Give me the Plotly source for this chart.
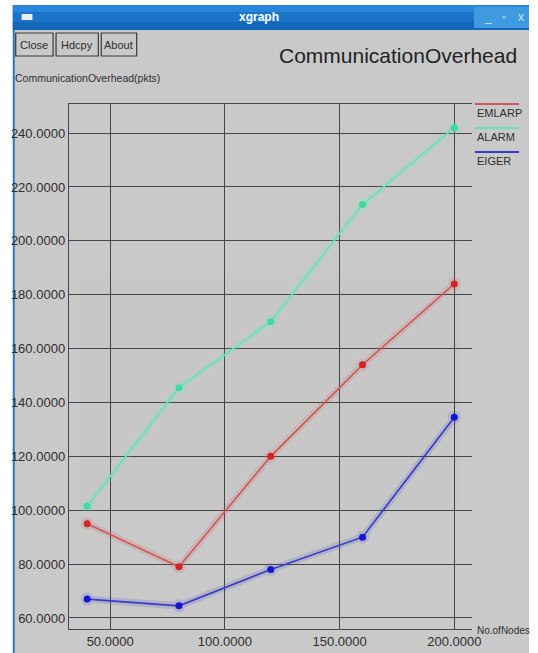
import plotly.graph_objects as go

# ---- data -------------------------------------------------------------
nodes = [40, 80, 120, 160, 200]
emlarp = [95, 79, 120, 154, 184]
alarm = [101.5, 145.5, 170, 213.5, 242]
eiger = [67, 64.5, 78, 90, 134.5]

series_names = ["EMLARP", "ALARM", "EIGER"]
series_values = [emlarp, alarm, eiger]

x_ticks = [50, 100, 150, 200]
y_ticks = [60, 80, 100, 120, 140, 160, 180, 200, 220, 240]

chart_title = "CommunicationOverhead"
y_title = "CommunicationOverhead(pkts)"
x_title = "No.ofNodes"
window_title = "xgraph"
buttons = ["Close", "Hdcpy", "About"]

# ---- styling ------------------------------------------------------------
W, H = 538, 653
BODY = "#c9c9c9"
GRID = "#474747"
TEXT = "#2e2e2e"
line_colors = ["#d05858", "#66e4b8", "#3a3ac8"]
marker_colors = ["#d42424", "#3cdca0", "#1414d2"]
FONT = "Liberation Sans, Arial, sans-serif"


def px(x):
    return x / W


def py(y):
    return 1 - y / H


def label(text, x, y, size, color=TEXT, xa="center", ya="middle"):
    return dict(text=text, xref="paper", yref="paper", x=px(x), y=py(y),
                xanchor=xa, yanchor=ya, showarrow=False,
                font=dict(family=FONT, size=size, color=color))


fig = go.Figure()

# soft halo under each line, then the line itself
for name, vals, lc, mc in zip(series_names, series_values, line_colors, marker_colors):
    fig.add_trace(go.Scatter(
        x=nodes, y=vals, mode="lines+markers",
        line=dict(color=lc, width=7), marker=dict(color=lc, size=13),
        opacity=0.16, hoverinfo="skip", showlegend=False))
    fig.add_trace(go.Scatter(
        x=nodes, y=vals, mode="lines+markers", name=name,
        line=dict(color=lc, width=1.6),
        marker=dict(color=mc, size=7), showlegend=False))

shapes = []
annotations = []

# window body and frame
shapes.append(dict(type="rect", xref="paper", yref="paper", x0=px(13), x1=1,
                   y0=0, y1=py(5), fillcolor=BODY, line=dict(width=0), layer="below"))
shapes.append(dict(type="rect", xref="paper", yref="paper", x0=px(13), x1=px(15),
                   y0=0, y1=py(5), fillcolor="#2a78c4", line=dict(width=0), layer="below"))
# title bar bands
bands = [(5, 12, "#2a86da"), (12, 22, "#1b74c8"), (22, 30, "#1266b8")]
for y0, y1, c in bands:
    shapes.append(dict(type="rect", xref="paper", yref="paper", x0=px(13), x1=1,
                       y0=py(y1), y1=py(y0), fillcolor=c, line=dict(width=0), layer="below"))
shapes.append(dict(type="rect", xref="paper", yref="paper", x0=px(482), x1=1,
                   y0=py(28), y1=py(7), fillcolor="#3f9ae0", line=dict(width=0), layer="below"))
shapes.append(dict(type="rect", xref="paper", yref="paper", x0=px(22), x1=px(33),
                   y0=py(20), y1=py(14), fillcolor="#e8eef6", line=dict(width=0), layer="below"))
annotations.append(label("<b>" + window_title + "</b>", 263, 17, 12, "white"))
for ch, xx in [("_", 496), ("▫", 513), ("x", 530)]:
    annotations.append(label(ch, xx, 17, 12, "#bfe6f8"))

# buttons
btn_x = [(16, 54), (57, 100), (103, 139)]
for text, (x0, x1) in zip(buttons, btn_x):
    shapes.append(dict(type="rect", xref="paper", yref="paper", x0=px(x0), x1=px(x1),
                       y0=py(56), y1=py(33), fillcolor=BODY,
                       line=dict(color="#3a3a3a", width=1.2), layer="below"))
    annotations.append(label(text, (x0 + x1) / 2, 45, 11))

# titles
annotations.append(label(chart_title, 528, 56, 21, "#222222", xa="right"))
annotations.append(label(y_title, 13, 78, 10.5, xa="left"))
annotations.append(label(x_title, 483, 630, 10, xa="left"))

# legend: coloured line above each name
for i, (name, lc) in enumerate(zip(series_names, line_colors)):
    ly = 104 + 24 * i
    shapes.append(dict(type="line", xref="paper", yref="paper", x0=px(483), x1=px(528),
                       y0=py(ly), y1=py(ly), line=dict(color=lc, width=2)))
    annotations.append(label(name, 483, ly + 9, 11, xa="left"))

fig.update_layout(
    width=W, height=H,
    margin=dict(l=0, r=0, t=0, b=0),
    paper_bgcolor="white",
    plot_bgcolor="rgba(0,0,0,0)",
    showlegend=False,
    shapes=shapes,
    annotations=annotations,
    xaxis=dict(
        domain=[px(70), px(480)], range=[32, 207.7],
        tickvals=x_ticks, ticktext=[f"{v:.4f}" for v in x_ticks],
        showgrid=True, gridcolor=GRID, gridwidth=1.2,
        showline=True, linecolor=GRID, linewidth=1.2, mirror=True,
        zeroline=False, ticks="", tickfont=dict(family=FONT, size=13, color=TEXT),
    ),
    yaxis=dict(
        domain=[1 - 629 / H, 1 - 104 / H], range=[55.9, 250.8],
        tickvals=y_ticks, ticktext=[f"{v:.4f}" for v in y_ticks],
        showgrid=True, gridcolor=GRID, gridwidth=1.2,
        showline=True, linecolor=GRID, linewidth=1.2, mirror=False,
        zeroline=False, ticks="", tickfont=dict(family=FONT, size=13, color=TEXT),
    ),
)

fig.write_html("out.html")
